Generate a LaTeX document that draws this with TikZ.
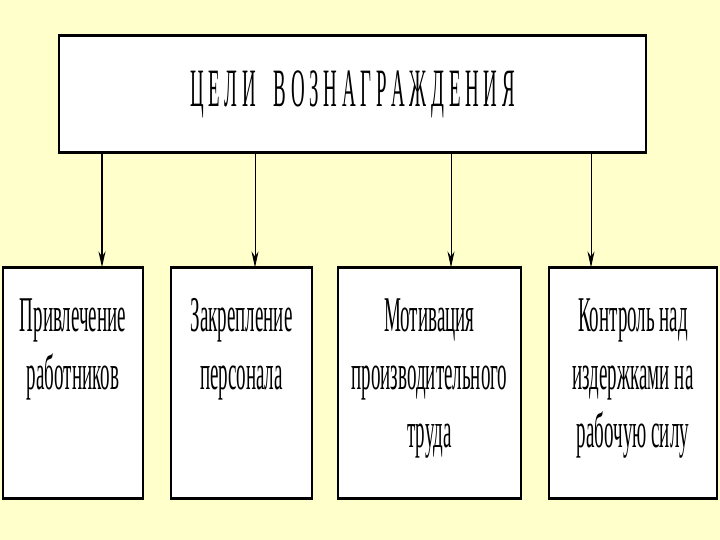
\documentclass[tikz,border=0pt]{standalone}
\usepackage{fontspec}
\usepackage{tikz}
\usetikzlibrary{arrows.meta,positioning}
\newfontfamily\narrowfont[FakeStretch=0.38]{Liberation Serif}
\newfontfamily\titlefont[FakeStretch=0.35]{Liberation Serif}
\definecolor{bgyellow}{HTML}{FFFFCC}

\begin{document}
\begin{tikzpicture}[x=1pt,y=-1pt,
	box/.style={draw=black, fill=white, line width=1.2pt, inner sep=0pt},
	boxtext/.style={inner sep=0pt, align=center, font=\narrowfont\fontsize{50}{58}\selectfont},
	arr/.style={-{Stealth[length=16pt,width=7pt]}, line width=0.8pt}]
		\fill[bgyellow] (0,0) rectangle (720,540);
		\useasboundingbox (0,0) rectangle (720,540);
		
		\node[box, minimum width=587pt, minimum height=116pt, font=\titlefont\fontsize{54}{60}\selectfont] (goals) at (352.5,94)
		{Ц Е Л И\hspace{13pt} В О З Н А Г Р А Ж Д Е Н И Я};
		\node[box, minimum width=140pt, minimum height=230pt] (b1) at (73,383) {};
		\node[box, minimum width=141pt, minimum height=230pt] (b2) at (241.5,383) {};
		\node[box, minimum width=183pt, minimum height=230pt] (b3) at (429.5,383) {};
		\node[box, minimum width=168pt, minimum height=230pt] (b4) at (633,383) {};
		
		% thick top and bottom edges
		\foreach \n in {goals,b1,b2,b3,b4} {
			\draw[line width=2.6pt] (\n.north west) -- (\n.north east);
			\draw[line width=2.6pt] (\n.south west) -- (\n.south east);
		}
		
		\node[boxtext, below=31pt of b1.north] (t1) {Привлечение\\работников};
		\node[boxtext, below=31pt of b2.north] (t2) {Закрепление\\персонала};
		\node[boxtext, below=31pt of b3.north] (t3) {Мотивация\\производительного\\труда};
		\node[boxtext, below=31pt of b4.north] (t4) {Контроль над\\издержками на\\рабочую силу};
		
		\coordinate (x1) at (102,0);
		\coordinate (x2) at (255,0);
		\coordinate (x3) at (451,0);
		\coordinate (x4) at (591,0);
		\draw[arr, line width=1.6pt] (goals.south -| x1) -- (b1.north -| x1);
		\draw[arr] (goals.south -| x2) -- (b2.north -| x2);
		\draw[arr] (goals.south -| x3) -- (b3.north -| x3);
		\draw[arr] (goals.south -| x4) -- (b4.north -| x4);
	\end{tikzpicture}
\end{document}
